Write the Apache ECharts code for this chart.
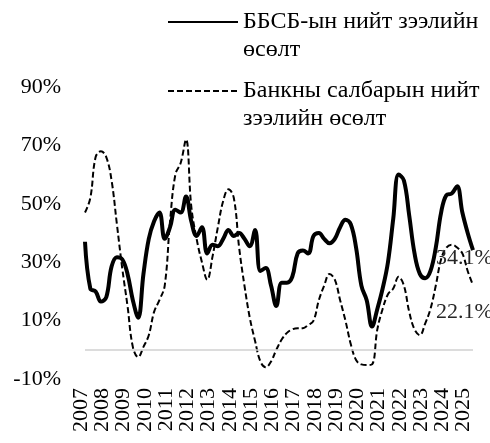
<!DOCTYPE html>
<html>
<head>
<meta charset="utf-8">
<script src="https://cdn.jsdelivr.net/npm/echarts@6/dist/echarts.min.js"></script>
<style>
html, body { margin: 0; padding: 0; background: #fff; }
#chart { width: 490px; height: 443px; }
</style>
</head>
<body>
<div id="chart"></div>
<script>
// year tick labels, data is quarterly 2007Q1 - 2025Q2
var years = ['2007','2008','2009','2010','2011','2012','2013','2014','2015','2016',
             '2017','2018','2019','2020','2021','2022','2023','2024','2025'];
var quarters = ['I','II','III','IV'];

var nbfiGrowth = [37, 21, 20, 16.5, 18, 28.5, 31.7, 31, 26, 17,
                  11, 26, 38, 44, 47, 38, 42, 48, 47, 52.5,
                  44, 39, 42, 33, 36, 35.5, 38, 41, 39, 40,
                  38, 35.5, 41, 27, 28, 22, 15, 23, 23, 25,
                  33, 34, 33, 39, 40, 38, 36.5, 38, 42, 44.5,
                  43, 35, 22, 17, 8, 14, 21, 30, 45, 60,
                  58, 46, 33, 26, 24.5, 27, 35, 47, 53, 53.5,
                  56, 47, 40, 34.1];

var bankGrowth = [47, 52, 66, 68, 66, 58, 43, 28, 15, 1,
                  -2.5, 1, 5, 13, 17, 22, 44, 60, 64, 72,
                  49, 38, 30, 24, 32, 42, 51, 55, 52, 35,
                  22, 11, 3, -4, -6, -4, 0, 3.5, 5.8, 7,
                  7.4, 7.4, 8.5, 10, 17, 22, 26, 24, 17, 10,
                  2, -3.5, -5, -5.2, -5, 7, 14, 19, 21, 25,
                  22, 13, 7, 5, 9, 14, 22, 31, 35, 36,
                  35, 33, 27, 22.1];

var seriesNames = ['ББСБ-ын нийт зээлийн\nөсөлт', 'Банкны салбарын нийт\nзээлийн өсөлт'];
var yTicks = { min: -10, max: 90, step: 20 };

var categories = [];
years.forEach(function (y) {
	quarters.forEach(function (q) { categories.push(y + ' ' + q); });
});
categories = categories.slice(0, nbfiGrowth.length);

var font = "'Liberation Serif', 'Times New Roman', serif";
var chart = echarts.init(document.getElementById('chart'));

function makeLegend(name, top) {
	return {
		orient: 'vertical',
		left: 162,
		top: top,
		itemWidth: 70,
		itemHeight: 10,
		data: [name],
		itemStyle: { opacity: 0 },
		formatter: function (n) { return '\n' + n; },
		textStyle: {
			fontFamily: font,
			fontSize: 24,
			color: '#000',
			lineHeight: 28
		}
	};
}

var option = {
	animation: false,
	legend: [
		makeLegend(seriesNames[0], -25),
		makeLegend(seriesNames[1], 44)
	],
	grid: {
		left: 85,
		right: 17,
		top: 87,
		bottom: 64
	},
	xAxis: {
		type: 'category',
		data: categories,
		boundaryGap: false,
		axisLine: { show: false },
		axisTick: { show: false },
		axisLabel: {
			rotate: 90,
			margin: 9,
			fontFamily: font,
			fontSize: 22,
			color: '#000',
			verticalAlign: 'bottom',
			lineHeight: 8,
			interval: 0,
			hideOverlap: false,
			formatter: function (v, i) { return i % 4 === 0 ? v.split(' ')[0] : ''; }
		}
	},
	yAxis: {
		type: 'value',
		min: yTicks.min,
		max: yTicks.max,
		interval: yTicks.step,
		splitLine: { show: false },
		axisLine: { show: false },
		axisTick: { show: false },
		axisLabel: {
			margin: 24,
			fontFamily: font,
			fontSize: 22,
			color: '#000',
			formatter: '{value}%'
		}
	},
	series: [
		{
			name: seriesNames[1],
			type: 'line',
			data: bankGrowth,
			smooth: 0.4,
			symbol: 'none',
			z: 2,
			lineStyle: { color: '#000', width: 2, type: [6, 3] },
			itemStyle: { color: '#000' },
			endLabel: {
				show: true,
				formatter: function (p) { return p.value + '%'; },
				fontFamily: font,
				fontSize: 22,
				color: '#262626',
				offset: [-45, 27]
			},
			markLine: {
				silent: true,
				symbol: 'none',
				label: { show: false },
				lineStyle: { color: '#d0d0d0', width: 1.5, type: 'solid' },
				data: [{ yAxis: 0 }]
			}
		},
		{
			name: seriesNames[0],
			type: 'line',
			data: nbfiGrowth,
			smooth: 0.4,
			symbol: 'none',
			z: 3,
			lineStyle: { color: '#000', width: 4 },
			itemStyle: { color: '#000' },
			endLabel: {
				show: true,
				formatter: function (p) { return p.value + '%'; },
				fontFamily: font,
				fontSize: 22,
				color: '#262626',
				offset: [-45, 8]
			}
		}
	]
};

chart.setOption(option);
</script>
</body>
</html>
